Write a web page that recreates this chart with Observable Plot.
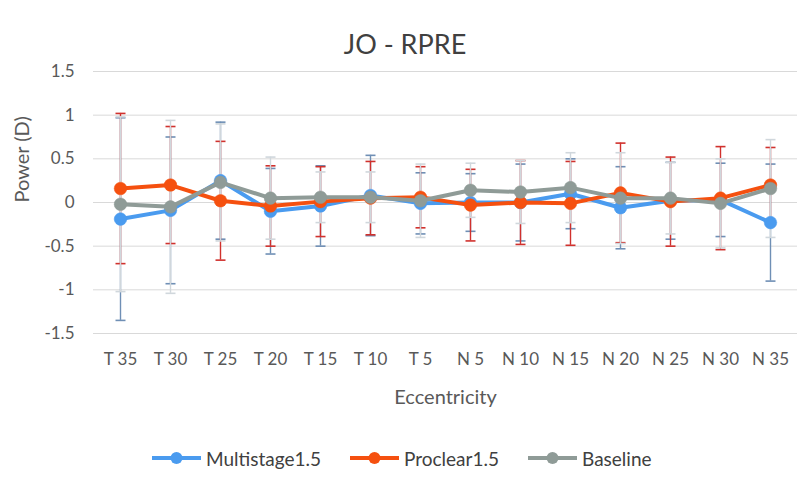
<!DOCTYPE html>
<html>
<head>
<meta charset="utf-8">
<script src="https://cdn.jsdelivr.net/npm/d3@7"></script>
<script src="https://cdn.jsdelivr.net/npm/@observablehq/plot@0.6"></script>
<style>
  body { margin: 0; background: #fff; font-family: Lato, "Open Sans", sans-serif; }
  #wrap { width: 810px; height: 481px; position: relative; overflow: hidden; background: #fff; }
  #title { height: 30px; padding-top: 26px; line-height: 36px; font-size: 27px; color: #404040; text-align: center; }
  #chart { height: 360px; }
  #chart svg { display: block; }
  #legend { position: relative; height: 65px; }
  .lg-item { position: absolute; top: 30px; height: 24px; display: flex; align-items: center; font-size: 19px; color: #404040; }
  .lg-item svg { margin-right: 5px; }
</style>
</head>
<body>
<div id="wrap">
  <div id="title">JO - RPRE</div>
  <div id="chart"></div>
  <div id="legend"></div>
</div>
<script>
// ---- Data ----
const categories = ["T 35", "T 30", "T 25", "T 20", "T 15", "T 10", "T 5", "N 5", "N 10", "N 15", "N 20", "N 25", "N 30", "N 35"];

const multistage    = [-0.19, -0.09, 0.25, -0.10, -0.04, 0.08, -0.01, 0.00, 0.00, 0.10, -0.06, 0.02, 0.03, -0.23];
const multistageErr = [ 1.16,  0.84, 0.67,  0.49,  0.46, 0.46,  0.35, 0.33, 0.44, 0.40,  0.47, 0.44, 0.42,  0.67];

const proclear      = [0.16, 0.20, 0.02, -0.04, 0.01, 0.05, 0.06, -0.03, 0.00, -0.01, 0.11, 0.01, 0.05, 0.20];
const proclearErr   = [0.86, 0.67, 0.68,  0.46, 0.40, 0.42, 0.35,  0.41, 0.48,  0.48, 0.57, 0.51, 0.59, 0.43];

const baseline      = [-0.02, -0.05, 0.23, 0.05, 0.06, 0.06, 0.02, 0.14, 0.12, 0.17, 0.05, 0.05, -0.01, 0.16];
const baselineErr   = [ 1.00,  0.99, 0.67, 0.47, 0.29, 0.29, 0.42, 0.31, 0.36, 0.40, 0.52, 0.41,  0.51, 0.56];

const yTicks = [-1.5, -1, -0.5, 0, 0.5, 1, 1.5];
const seriesNames = ["Multistage1.5", "Proclear1.5", "Baseline"];

// ---- Styling ----
const lineColors = {"Multistage1.5": "#4A9BEF", "Proclear1.5": "#F5500F", "Baseline": "#8F9B97"};
const errColors  = {"Multistage1.5": "#6F8FB5", "Proclear1.5": "#D0312D", "Baseline": "#D0D7DC"};

const seriesData = {
  "Multistage1.5": [multistage, multistageErr],
  "Proclear1.5": [proclear, proclearErr],
  "Baseline": [baseline, baselineErr]
};

function rowsFor(name) {
  const [vals, errs] = seriesData[name];
  return categories.map((c, i) => ({series: name, cat: c, v: vals[i], e: errs[i]}));
}

const capSymbol = {
  draw(context) {
    context.moveTo(-5, 0);
    context.lineTo(5, 0);
  }
};

const errMarks = seriesNames.flatMap(name => {
  const rows = rowsFor(name);
  const col = errColors[name];
  return [
    Plot.ruleX(rows, {x: "cat", y1: d => d.v - d.e, y2: d => d.v + d.e, stroke: col, strokeWidth: 1.4}),
    Plot.dot(rows, {x: "cat", y: d => d.v + d.e, symbol: capSymbol, r: 5, stroke: col, fill: "none", strokeWidth: 1.6}),
    Plot.dot(rows, {x: "cat", y: d => d.v - d.e, symbol: capSymbol, r: 5, stroke: col, fill: "none", strokeWidth: 1.6})
  ];
});

const lineMarks = seriesNames.flatMap(name => {
  const rows = rowsFor(name);
  const col = lineColors[name];
  return [
    Plot.line(rows, {x: "cat", y: "v", stroke: col, strokeWidth: 4, strokeLinejoin: "round"}),
    Plot.dot(rows, {x: "cat", y: "v", r: 6.3, fill: col, stroke: col, strokeWidth: 0.5})
  ];
});

const chart = Plot.plot({
  width: 810,
  height: 360,
  marginLeft: 93,
  marginRight: 13,
  marginTop: 15,
  marginBottom: 83,
  style: {fontFamily: "Lato, 'Open Sans', sans-serif", color: "#595959", background: "#fff", overflow: "visible"},
  x: {type: "point", domain: categories, padding: 0.5},
  y: {domain: [-1.5, 1.5]},
  marks: [
    Plot.ruleY(yTicks, {stroke: "#D9D9D9", strokeWidth: 1}),
    ...errMarks,
    ...lineMarks,
    Plot.axisY(yTicks, {tickSize: 0, tickPadding: 19, fontSize: 17, tickFormat: d => String(d), label: null}),
    Plot.axisX({tickSize: 0, tickPadding: 19, fontSize: 17, label: null}),
    Plot.text(["Eccentricity"], {frameAnchor: "bottom", dy: 64, fontSize: 20, fill: "#595959", lineAnchor: "middle"}),
    Plot.text(["Power (D)"], {frameAnchor: "left", dx: -71, rotate: -90, fontSize: 20, fill: "#595959", lineAnchor: "middle"})
  ]
});
document.getElementById("chart").appendChild(chart);

// ---- Legend ----
const legend = document.getElementById("legend");
const legendX = {"Multistage1.5": 152, "Proclear1.5": 350, "Baseline": 528};
for (const name of seriesNames) {
  const item = document.createElement("div");
  item.className = "lg-item";
  item.style.left = legendX[name] + "px";
  const col = lineColors[name];
  item.innerHTML = `<svg width="49" height="24"><line x1="0" y1="12" x2="49" y2="12" stroke="${col}" stroke-width="4"/><circle cx="24.5" cy="12" r="6" fill="${col}"/></svg><span>${name}</span>`;
  legend.appendChild(item);
}
</script>
</body>
</html>
